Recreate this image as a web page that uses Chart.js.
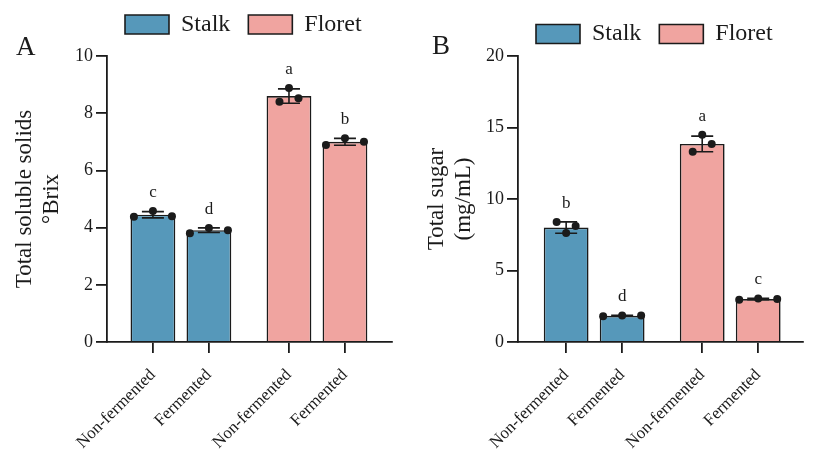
<!DOCTYPE html>
<html><head><meta charset="utf-8">
<script src="https://cdn.jsdelivr.net/npm/chart.js@4.4.1/dist/chart.umd.min.js"></script>
<style>
html,body{margin:0;padding:0;background:#fff;}
#wrap{position:relative;width:813px;height:462px;overflow:hidden;background:#fff;}
canvas{position:absolute;top:0;}
#cA{left:0;} #cB{left:406px;}
</style></head><body>
<div id="wrap"><canvas id="cA" width="406" height="462"></canvas><canvas id="cB" width="407" height="462"></canvas></div>
<script>
// ---------- data ----------
const categories = ['Non-fermented', 'Fermented', 'Non-fermented', 'Fermented'];
const groups = ['Stalk', 'Floret'];

// Panel A: total soluble solids (°Brix)
const solidsMean = [4.45, 3.91, 8.60, 7.00];
const solidsSD = [0.11, 0.08, 0.25, 0.12];
const solidsReps = [[4.38, 4.58, 4.40], [3.80, 3.99, 3.91], [8.40, 8.88, 8.52], [6.89, 7.12, 7.00]];
const solidsLetters = ['c', 'd', 'a', 'b'];
const solidsTicks = [0, 2, 4, 6, 8, 10];

// Panel B: total sugar (mg/mL)
const sugarMean = [8.00, 1.83, 13.85, 3.00];
const sugarSD = [0.40, 0.03, 0.55, 0.05];
const sugarReps = [[8.39, 8.11, 7.62], [1.80, 1.85, 1.85], [13.30, 14.50, 13.85], [2.95, 3.05, 3.00]];
const sugarLetters = ['b', 'd', 'a', 'c'];
const sugarTicks = [0, 5, 10, 15, 20];

// ---------- style / layout ----------
const FONT = "'Liberation Serif','Times New Roman',serif";
const INK = '#1b1b1b';
const COLORS = { Stalk: '#5698BA', Floret: '#F0A4A0' };
const GROUP_STRIDE = 2.43;      // x-units between first bars of each group
const DOT_SPREAD = 19 / 56;     // x-units between neighbouring overlapping dots
const CLUSTER_FRAC = 8.5 / 286; // overlap threshold as fraction of y-range
const CAP = 11;                 // error-bar cap half width (px)

function xPos(i) { return Math.floor(i / 2) * GROUP_STRIDE + (i % 2); }

function jitterOffsets(reps, yMax) {
  const thr = yMax * CLUSTER_FRAC;
  const idx = reps.map((v, i) => i).sort((a, b) => reps[b] - reps[a]);
  const offs = new Array(reps.length).fill(0);
  let i = 0;
  while (i < idx.length) {
    const start = reps[idx[i]];
    const cl = [idx[i]];
    let j = i + 1;
    while (j < idx.length && start - reps[idx[j]] < thr) { cl.push(idx[j]); j++; }
    cl.sort((a, b) => a - b);
    cl.forEach((k, n) => { offs[k] = (n - (cl.length - 1) / 2) * DOT_SPREAD; });
    i = j;
  }
  return offs;
}

function makePlugin(p) {
  return {
    id: 'errorBarsLetters',
    beforeDatasetDraw(chart, args) {
      if (args.index !== 2) return;
      const { ctx } = chart, x = chart.scales.x, y = chart.scales.y;
      ctx.save();
      ctx.strokeStyle = INK; ctx.lineWidth = 1.6;
      p.mean.forEach((m, i) => {
        const px = x.getPixelForValue(xPos(i));
        const yt = y.getPixelForValue(m + p.sd[i]);
        const yb = y.getPixelForValue(m - p.sd[i]);
        ctx.beginPath();
        ctx.moveTo(px, yt); ctx.lineTo(px, yb);
        ctx.moveTo(px - CAP, yt); ctx.lineTo(px + CAP, yt);
        ctx.moveTo(px - CAP, yb); ctx.lineTo(px + CAP, yb);
        ctx.stroke();
      });
      ctx.restore();
    },
    afterDatasetsDraw(chart) {
      const { ctx } = chart, x = chart.scales.x, y = chart.scales.y;
      ctx.save();
      ctx.fillStyle = INK; ctx.textAlign = 'center'; ctx.textBaseline = 'alphabetic';
      ctx.font = '17px ' + FONT;
      p.letters.forEach((l, i) => {
        const topVal = Math.max(p.mean[i] + p.sd[i], ...p.reps[i]);
        ctx.fillText(l, x.getPixelForValue(xPos(i)), y.getPixelForValue(topVal) - 14);
      });
      ctx.font = '27px ' + FONT;
      ctx.textAlign = 'left';
      ctx.fillText(p.panel, p.panelX, p.panelY);
      ctx.restore();
    }
  };
}

function buildChart(id, p) {
  const yMax = p.ticks[p.ticks.length - 1];
  const bars = groups.map((g, gi) => ({
    type: 'bar', label: g,
    data: p.mean.map((v, i) => ({ x: xPos(i), y: v, g: Math.floor(i / 2) })).filter(d => d.g === gi).map(d => ({ x: d.x, y: d.y })),
    backgroundColor: COLORS[g], borderColor: INK, borderWidth: 1.6,
    grouped: false, barPercentage: 0.8, categoryPercentage: 1, order: 2
  }));
  const dots = [];
  p.reps.forEach((r, i) => {
    const offs = jitterOffsets(r, yMax);
    r.forEach((v, k) => dots.push({ x: xPos(i) + offs[k], y: v }));
  });
  const axisGrid = { display: true, offset: false, drawOnChartArea: false, drawTicks: true, tickLength: 11, color: INK, lineWidth: 1.8 };
  const axisBorder = { display: true, color: INK, width: 1.8 };
  return new Chart(document.getElementById(id), {
    type: 'bar',
    data: {
      datasets: [...bars, {
        type: 'scatter', label: 'replicates', data: dots,
        pointRadius: 4, pointBackgroundColor: INK, pointBorderWidth: 0, showLine: false, order: 1
      }]
    },
    options: {
      responsive: false, animation: false, events: [],
      layout: { padding: { top: p.padTop, left: 0, right: p.padRight, bottom: 0 } },
      plugins: {
        tooltip: { enabled: false },
        // empty title used only as a spacer between legend and plot area
        title: { display: p.gap > 0, text: '', weight: 500, padding: 0, font: { size: Math.max(p.gap, 1), lineHeight: 1 } },
        legend: {
          position: 'top', align: 'start', fullSize: false,
          labels: {
            boxWidth: 44, boxHeight: 19, padding: 18, color: INK,
            font: { family: FONT, size: 24 },
            filter: item => item.datasetIndex < 2
          }
        }
      },
      scales: {
        x: {
          type: 'linear', min: p.xmin, max: p.xmax, offset: false,
          afterBuildTicks: s => { s.ticks = categories.map((c, i) => ({ value: xPos(i) })); },
          afterFit: s => { s.height = 120; },
          grid: axisGrid, border: axisBorder,
          ticks: {
            autoSkip: false, minRotation: 45, maxRotation: 45, padding: 12, color: INK,
            font: { family: FONT, size: 17 },
            callback: (v, i) => categories[i]
          }
        },
        y: {
          type: 'linear', min: 0, max: yMax,
          afterBuildTicks: s => { s.ticks = p.ticks.map(v => ({ value: v })); },
          afterFit: s => { s.width = p.yWidth; s.paddingTop = 56; },
          grid: axisGrid, border: axisBorder,
          ticks: { color: INK, padding: 3, font: { family: FONT, size: 18 } },
          title: {
            display: true, text: p.yTitle, color: INK,
            font: { family: FONT, size: 23, lineHeight: 1.2 },
            padding: { top: p.titlePad, bottom: 0 }
          }
        }
      }
    },
    plugins: [makePlugin(p)]
  });
}

buildChart('cA', {
  mean: solidsMean, sd: solidsSD, reps: solidsReps, letters: solidsLetters, ticks: solidsTicks,
  yTitle: ['Total soluble solids', '°Brix'], panel: 'A', panelX: 16, panelY: 55,
  padTop: -5.5, gap: 9.5, padRight: 14, yWidth: 107, titlePad: 11, xmin: -0.82, xmax: 4.27
});
buildChart('cB', {
  mean: sugarMean, sd: sugarSD, reps: sugarReps, letters: sugarLetters, ticks: sugarTicks,
  yTitle: ['Total sugar', '(mg/mL)'], panel: 'B', panelX: 26, panelY: 54,
  padTop: 4, gap: 0, padRight: 10, yWidth: 112, titlePad: 17, xmin: -0.86, xmax: 4.23
});
</script>
</body></html>
